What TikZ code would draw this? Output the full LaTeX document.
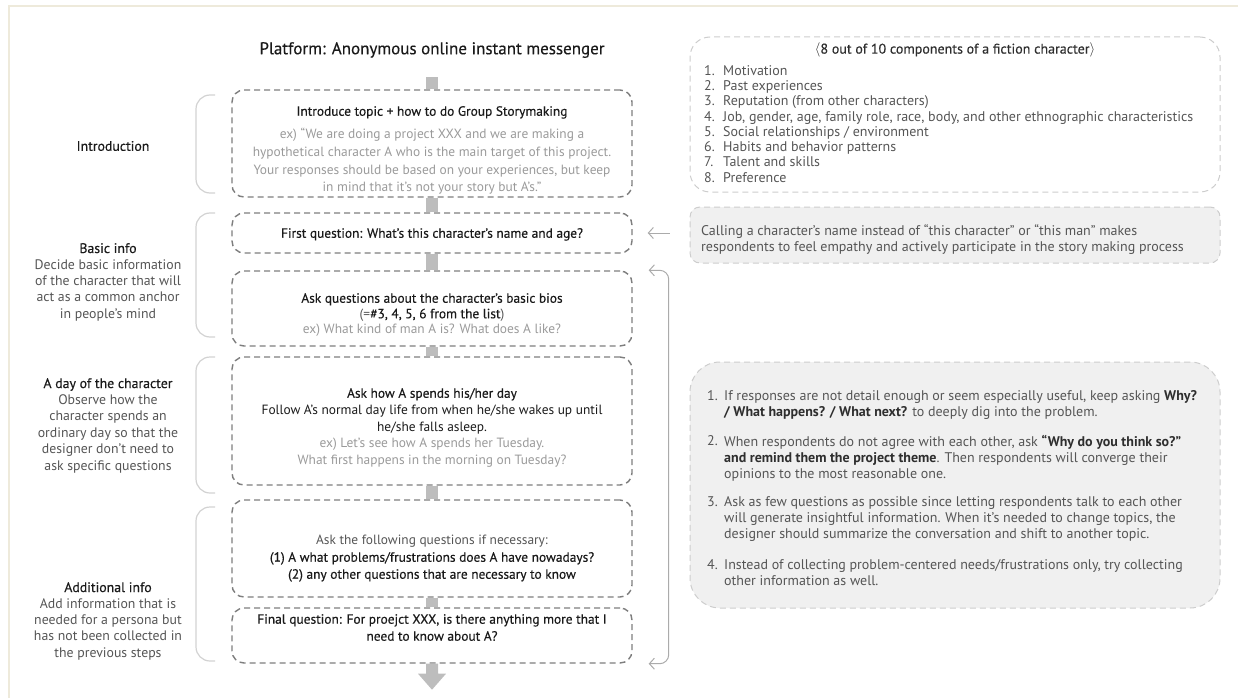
\documentclass[tikz,border=0pt]{standalone}
\usepackage{fontspec}
\setmainfont{PT Sans}
\newfontface\medfont{PT Sans}[FakeBold=0.35]
\usetikzlibrary{arrows.meta}
\definecolor{framec}{HTML}{EEEADB}
\definecolor{dashc}{HTML}{7E7E7E}
\definecolor{lightdash}{HTML}{CDCDCD}
\definecolor{fillg}{HTML}{F0F0F0}
\definecolor{connc}{HTML}{BDBDBD}
\definecolor{txtc}{HTML}{1A1A1A}
\definecolor{subc}{HTML}{555555}
\definecolor{exc}{HTML}{9A9A9A}
\definecolor{brkc}{HTML}{D2D2D2}
\definecolor{arrc}{HTML}{ABABAB}
\definecolor{boldc}{HTML}{2E2E2E}
\begin{document}
\begin{tikzpicture}[x=1pt,y=-1pt,
  stepbox/.style={draw=dashc, line width=1.4pt, dash pattern=on 6pt off 4pt, rounded corners=12pt, minimum width=400pt, inner sep=0pt},
  notebox/.style={draw=lightdash, line width=1pt, dash pattern=on 6pt off 4pt, inner sep=0pt},
  t12/.style={font=\fontsize{13.4}{16}\selectfont, inner sep=0pt},
  tl/.style={font=\fontsize{13.8}{16.3}\selectfont, inner sep=0pt},
  tr/.style={font=\fontsize{14}{16}\selectfont, inner sep=0pt},
  brk/.style={draw=brkc, line width=1.2pt, rounded corners=14pt},
  conn/.style={fill=connc},
  thinarr/.style={draw=arrc, line width=1pt, -{Straight Barb[length=5pt,width=11pt]}}
]
\useasboundingbox (0,0) rectangle (1238,698);
% frame
\draw[framec, line width=1.5pt] (1238,6) -- (9,6) -- (9,698);

% title
\node[font=\fontsize{17}{19}\medfont, text=txtc, inner sep=0pt] (title) at (432,50) {Platform: Anonymous online instant messenger};

% step boxes
\node[stepbox, minimum height=107pt] (b1) at (432,143.5) {};
\node[stepbox, minimum height=40pt] (b2) at (432,233) {};
\node[stepbox, minimum height=75pt] (b3) at (432,308.5) {};
\node[stepbox, minimum height=128pt] (b4) at (432,421) {};
\node[stepbox, minimum height=97pt] (b5) at (432,548.5) {};
\node[stepbox, minimum height=55pt] (b6) at (432,635.5) {};

% connectors between boxes
\fill[conn] ([xshift=-6pt,yshift=12pt]b1.north) rectangle ([xshift=6pt]b1.north);
\fill[conn] ([xshift=-6pt]b1.south) rectangle ([xshift=6pt]b2.north);
\fill[conn] ([xshift=-6pt]b2.south) rectangle ([xshift=6pt]b3.north);
\fill[conn] ([xshift=-6pt]b3.south) rectangle ([xshift=6pt]b4.north);
\fill[conn] ([xshift=-6pt]b4.south) rectangle ([xshift=6pt]b5.north);
\fill[conn] ([xshift=-6pt]b5.south) rectangle ([xshift=6pt]b6.north);
\fill[conn] (b6.south) ++(-6,0) -- ++(0,10) -- ++(-8,0) -- ++(14,16) -- ++(14,-16) -- ++(-8,0) -- ++(0,-10) -- cycle;

% box texts
\node[t12, align=center, text=exc, font=\fontsize{13.4}{17.6}\selectfont, anchor=north] (t1) at (432,106)
  {\textcolor{txtc}{\medfont Introduce topic + how to do Group Storymaking}\\[5.5pt]
   ex) “We are doing a project XXX and we are making a\\
   hypothetical character A who is the main target of this project.\\
   Your responses should be based on your experiences, but keep\\
   in mind that it’s not your story but A’s.”};
\node[t12, text=txtc, anchor=north] (t2) at (432,228) {\medfont First question: What’s this character’s name and age?};
\node[t12, align=center, text=txtc, font=\fontsize{13.4}{15.5}\selectfont, anchor=north] (t3) at (432,293)
  {{\medfont Ask questions about the character’s basic bios}\\
   \textcolor{subc}{(=}{\medfont\#3, 4, 5, 6 from the list}\textcolor{subc}{)}\\
   \textcolor{exc}{ex) What kind of man A is? What does A like?}};
\node[t12, align=center, text=txtc, font=\fontsize{13.4}{16.7}\selectfont, anchor=north] (t4) at (432,388)
  {{\medfont Ask how A spends his/her day}\\
   Follow A’s normal day life from when he/she wakes up until\\
   he/she falls asleep.\\
   \textcolor{exc}{ex) Let’s see how A spends her Tuesday.}\\
   \textcolor{exc}{What first happens in the morning on Tuesday?}};
\node[t12, align=center, text=txtc, font=\fontsize{13.4}{17}\selectfont, anchor=north] (t5) at (432,535)
  {\textcolor{subc}{Ask the following questions if necessary:}\\
   {\medfont (1) A what problems/frustrations does A have nowadays?}\\
   {\medfont (2) any other questions that are necessary to know}};
\node[t12, align=center, text=txtc, font=\fontsize{13.4}{17}\selectfont, anchor=north] (t6) at (432,614)
  {{\medfont Final question: For proejct XXX, is there anything more that I}\\
   {\medfont need to know about A?}};

% left brackets
\draw[brk] (215,95) -- (196,95) -- (196,193) -- (215,193);
\draw[brk] (215,213) -- (196,213) -- (196,337) -- (215,337);
\draw[brk] (215,357) -- (196,357) -- (196,493) -- (215,493);
\draw[brk] (215,507) -- (196,507) -- (196,661) -- (215,661);

% left labels
\node[tl, text=txtc] (l1) at (113,146) {\medfont Introduction};
\node[tl, align=center, text=subc, anchor=north] (l2) at (108,243)
  {\textcolor{txtc}{\medfont Basic info}\\ Decide basic information\\ of the character that will\\ act as a common anchor\\ in people’s mind};
\node[tl, align=center, text=subc, font=\fontsize{13.8}{16.4}\selectfont, anchor=north] (l3) at (108,378)
  {\textcolor{txtc}{\medfont A day of the character}\\ Observe how the\\ character spends an\\ ordinary day so that the\\ designer don’t need to\\ ask specific questions};
\node[tl, align=center, text=subc, anchor=north] (l4) at (108,582)
  {\textcolor{txtc}{\medfont Additional info}\\ Add information that is\\ needed for a persona but\\ has not been collected in\\ the previous steps};

% right note boxes
\node[notebox, rounded corners=20pt, minimum width=530pt, minimum height=155pt] (r1) at (955,114.5) {};
\node[notebox, fill=fillg, rounded corners=10pt, minimum width=530pt, minimum height=56pt] (r2) at (955,235) {};
\node[notebox, fill=fillg, rounded corners=30pt, minimum width=530pt, minimum height=246pt] (r3) at (955,485) {};

\node[tr, text=boldc] (r1t) at (955,50) {$\langle${\medfont 8 out of 10 components of a fiction character}$\rangle$};
\node[tr, align=left, text=subc, font=\fontsize{14}{15.3}\selectfont, anchor=north west] (r1l) at (704,65)
  {\makebox[19pt][l]{1.}Motivation\\
   \makebox[19pt][l]{2.}Past experiences\\
   \makebox[19pt][l]{3.}Reputation (from other characters)\\
   \makebox[19pt][l]{4.}Job, gender, age, family role, race, body, and other ethnographic characteristics\\
   \makebox[19pt][l]{5.}Social relationships / environment\\
   \makebox[19pt][l]{6.}Habits and behavior patterns\\
   \makebox[19pt][l]{7.}Talent and skills\\
   \makebox[19pt][l]{8.}Preference};

\node[tr, align=left, text=subc, anchor=north west] (r2t) at (701,224)
  {Calling a character’s name instead of “this character” or “this man” makes\\
   respondents to feel empathy and actively participate in the story making process};

\node[tr, text=subc, anchor=north west] (n1) at (707,390) {1.};
\node[tr, align=left, text=subc, anchor=north west] (i1) at (724,390)
  {If responses are not detail enough or seem especially useful, keep asking \textcolor{boldc}{\bfseries Why?}\\
   \textcolor{boldc}{\bfseries / What happens? / What next?} to deeply dig into the problem.};
\node[tr, text=subc, anchor=north west] (n2) at (707,435) {2.};
\node[tr, align=left, text=subc, anchor=north west] (i2) at (724,435)
  {When respondents do not agree with each other, ask \textcolor{boldc}{\bfseries “Why do you think so?”}\\
   \textcolor{boldc}{\bfseries and remind them the project theme}. Then respondents will converge their\\
   opinions to the most reasonable one.};
\node[tr, text=subc, anchor=north west] (n3) at (707,496) {3.};
\node[tr, align=left, text=subc, anchor=north west] (i3) at (724,496)
  {Ask as few questions as possible since letting respondents talk to each other\\
   will generate insightful information. When it’s needed to change topics, the\\
   designer should summarize the conversation and shift to another topic.};
\node[tr, text=subc, anchor=north west] (n4) at (707,559) {4.};
\node[tr, align=left, text=subc, anchor=north west] (i4) at (724,559)
  {Instead of collecting problem-centered needs/frustrations only, try collecting\\
   other information as well.};

% arrows
\draw[thinarr] ([xshift=-20pt]r2.west |- b2.east) -- ([xshift=15pt]b2.east);
\draw[draw=arrc, line width=1pt, rounded corners=9pt, {Straight Barb[length=5pt,width=11pt]}-{Straight Barb[length=5pt,width=11pt]}]
  ([xshift=16pt]b3.north east) -- ([xshift=36pt]b3.north east) -- ([xshift=36pt]b6.south east) -- ([xshift=16pt]b6.south east);
\end{tikzpicture}
\end{document}
